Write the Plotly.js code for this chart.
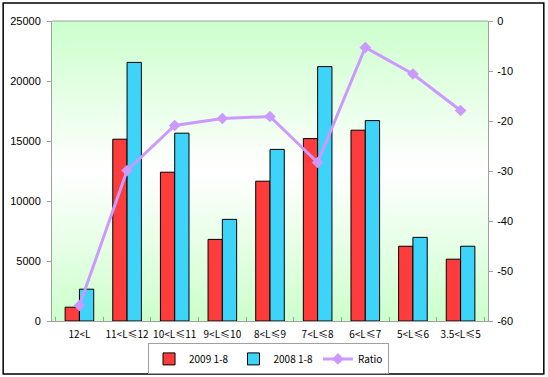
<!DOCTYPE html>
<html>
<head>
<meta charset="utf-8">
<script src="https://cdn.plot.ly/plotly-3.0.1.min.js"></script>
<style>
html,body{margin:0;padding:0;background:#fff;}
#chart{width:548px;height:377px;}
</style>
</head>
<body>
<div id="chart"></div>
<script>
var categories = ["12<L", "11<L≤12", "10<L≤11", "9<L≤10", "8<L≤9", "7<L≤8", "6<L≤7", "5<L≤6", "3.5<L≤5"];
var sales2009 = [1150, 15150, 12400, 6800, 11650, 15200, 15900, 6230, 5150];
var sales2008 = [2650, 21550, 15650, 8470, 14300, 21200, 16700, 6970, 6230];
var ratio = [-56.9, -29.9, -20.9, -19.5, -19.1, -28.3, -5.3, -10.6, -17.9];
var leftTicks = [0, 5000, 10000, 15000, 20000, 25000];
var rightTicks = [-60, -50, -40, -30, -20, -10, 0];

var bgSvg = '<svg xmlns="http://www.w3.org/2000/svg" width="10" height="100" preserveAspectRatio="none">' +
  '<defs><linearGradient id="g" x1="0" y1="0" x2="0" y2="1">' +
  '<stop offset="0" stop-color="#ccffcc"/><stop offset="0.5" stop-color="#ffffff"/>' +
  '<stop offset="1" stop-color="#ccffcc"/></linearGradient></defs>' +
  '<rect width="10" height="100" fill="url(#g)"/></svg>';
var bgUrl = 'data:image/svg+xml;base64,' + btoa(bgSvg);

var traces = [
  {type: 'bar', name: '2009 1-8', x: categories, y: sales2009,
   marker: {color: '#ff3c3c', line: {color: '#000', width: 1}}},
  {type: 'bar', name: '2008 1-8', x: categories, y: sales2008,
   marker: {color: '#3ed3f8', line: {color: '#000', width: 1}}},
  {type: 'scatter', mode: 'lines+markers', name: 'Ratio', x: categories, y: ratio, yaxis: 'y2',
   line: {color: '#cc99ff', width: 3}, marker: {symbol: 'diamond', size: 9, color: '#cc99ff'}}
];

var layout = {
  width: 548, height: 377,
  margin: {l: 52, r: 60, t: 21, b: 56},
  paper_bgcolor: '#ffffff',
  plot_bgcolor: 'rgba(0,0,0,0)',
  barmode: 'group', bargap: 0.4, bargroupgap: 0,
  showlegend: true,
  legend: {orientation: 'h', x: 0.49, xanchor: 'center', xref: 'container',
           y: 0.048, yanchor: 'middle', yref: 'container',
           bordercolor: '#a0a0a0', borderwidth: 1, bgcolor: '#ffffff',
           font: {family: 'Noto Sans CJK SC, sans-serif', size: 10, color: '#000'},
           itemwidth: 30, tracegroupgap: 0},
  font: {family: 'Liberation Sans, Arial, sans-serif', size: 11, color: '#000'},
  xaxis: {type: 'category', showgrid: false, zeroline: false, showline: true, linecolor: '#a0a0a0',
          ticks: 'inside', tickson: 'boundaries', ticklen: 4, tickcolor: '#a0a0a0',
          tickfont: {family: 'Noto Sans CJK SC, sans-serif', size: 10, color: '#000'},
          tickangle: 0, automargin: false, ticklabelstandoff: 4},
  yaxis: {range: [0, 25000], tickvals: leftTicks, ticktext: leftTicks.map(String),
          showgrid: false, zeroline: false, showline: true, linecolor: '#a0a0a0',
          ticks: 'outside', ticklen: 4, tickcolor: '#a0a0a0', automargin: false,
          ticklabelstandoff: 4, tickfont: {size: 11, color: '#000'}},
  yaxis2: {range: [-60, 0], tickvals: rightTicks, ticktext: rightTicks.map(String),
           overlaying: 'y', side: 'right', showgrid: false, zeroline: false,
           showline: true, linecolor: '#a0a0a0', ticks: 'outside', ticklen: 4, tickcolor: '#a0a0a0',
           automargin: false, ticklabelstandoff: 2, tickfont: {size: 11, color: '#000'}},
  images: [{source: bgUrl, xref: 'paper', yref: 'paper', x: 0, y: 1, sizex: 1, sizey: 1,
            xanchor: 'left', yanchor: 'top', sizing: 'stretch', layer: 'below'}],
  shapes: [{type: 'rect', xref: 'paper', yref: 'paper',
            x0: -0.112, x1: 1.128, y0: -0.177, y1: 1.06,
            line: {color: '#000', width: 1.5}, fillcolor: 'rgba(0,0,0,0)', layer: 'above'},
           {type: 'line', xref: 'paper', yref: 'paper', x0: 0, x1: 1, y0: 1, y1: 1,
            line: {color: '#a0a0a0', width: 1}}]
};

Plotly.newPlot('chart', traces, layout, {displayModeBar: false, staticPlot: true});
</script>
</body>
</html>
